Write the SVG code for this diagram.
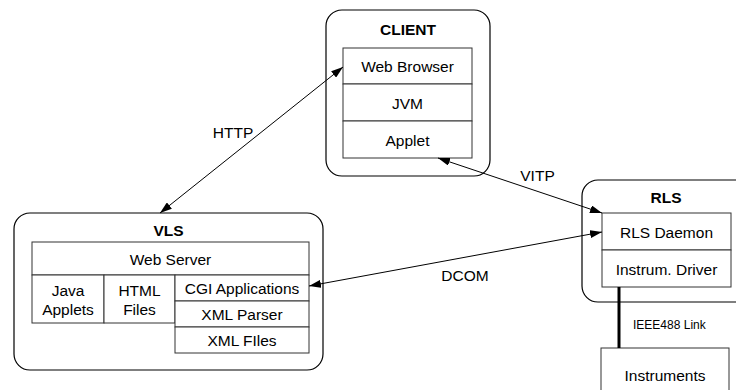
<svg xmlns="http://www.w3.org/2000/svg" width="736" height="390" viewBox="0 0 736 390">
<style>
.outer{fill:none;stroke:#000;stroke-width:1.2}
.cell{fill:#fff;stroke:#333;stroke-width:1}
text{font-family:"Liberation Sans",Arial,sans-serif;font-size:15.5px;fill:#000;text-anchor:middle}
.title{font-weight:bold}
.small{font-size:12px;text-anchor:start}
.conn{stroke:#000;stroke-width:1;fill:none;marker-start:url(#ah);marker-end:url(#ah)}
</style>
<defs>
<marker id="ah" viewBox="0 0 12 8" refX="12" refY="4" markerWidth="12" markerHeight="8" markerUnits="userSpaceOnUse" orient="auto-start-reverse">
<path d="M0,0 L12,4 L0,8 Z" fill="#000"/>
</marker>
</defs>
<rect width="736" height="390" fill="#fff"/>
<g id="client">
<rect class="outer" x="326" y="10" width="164" height="166" rx="16"/>
<text class="title" x="408" y="34.5">CLIENT</text>
<rect class="cell" x="343" y="48" width="129" height="36"/>
<text x="407.5" y="71.5">Web Browser</text>
<rect class="cell" x="343" y="84" width="129" height="37"/>
<text x="407.5" y="108.5">JVM</text>
<rect class="cell" x="343" y="121" width="129" height="37"/>
<text x="407.5" y="145.5">Applet</text>
</g>
<g id="vls">
<rect class="outer" x="14" y="213" width="309" height="157" rx="16"/>
<text class="title" x="168.5" y="235.5">VLS</text>
<rect class="cell" x="32" y="242" width="277" height="33"/>
<text x="170.5" y="264.5">Web Server</text>
<rect class="cell" x="32" y="275" width="72" height="48"/>
<text x="68" y="295.5">Java</text>
<text x="68" y="315">Applets</text>
<rect class="cell" x="104" y="275" width="71" height="48"/>
<text x="139.5" y="295.5">HTML</text>
<text x="139.5" y="315">Files</text>
<rect class="cell" x="175" y="275" width="134" height="26"/>
<text x="242" y="294">CGI Applications</text>
<rect class="cell" x="175" y="301" width="134" height="26"/>
<text x="242" y="320">XML Parser</text>
<rect class="cell" x="175" y="327" width="134" height="26"/>
<text x="242" y="346">XML FIles</text>
</g>
<g id="rls">
<rect class="outer" x="582" y="180" width="180" height="122" rx="16"/>
<text class="title" x="666" y="203">RLS</text>
<rect class="cell" x="602" y="213" width="129" height="37"/>
<text x="666.5" y="237.5">RLS Daemon</text>
<rect class="cell" x="602" y="250" width="129" height="37"/>
<text x="666.5" y="274.5">Instrum. Driver</text>
</g>
<g id="instruments">
<rect class="cell" x="601" y="348" width="128" height="60"/>
<text x="665" y="381">Instruments</text>
</g>
<g id="connectors">
<line class="conn" x1="160" y1="213" x2="343" y2="67"/>
<line class="conn" x1="438" y1="158" x2="602" y2="213"/>
<line class="conn" x1="309" y1="286" x2="602" y2="232"/>
<line x1="619" y1="287" x2="619" y2="348" stroke="#000" stroke-width="3"/>
<text x="233" y="138">HTTP</text>
<text x="537.5" y="181">VITP</text>
<text x="465" y="281">DCOM</text>
<text class="small" x="633" y="329">IEEE488 Link</text>
</g>
</svg>
